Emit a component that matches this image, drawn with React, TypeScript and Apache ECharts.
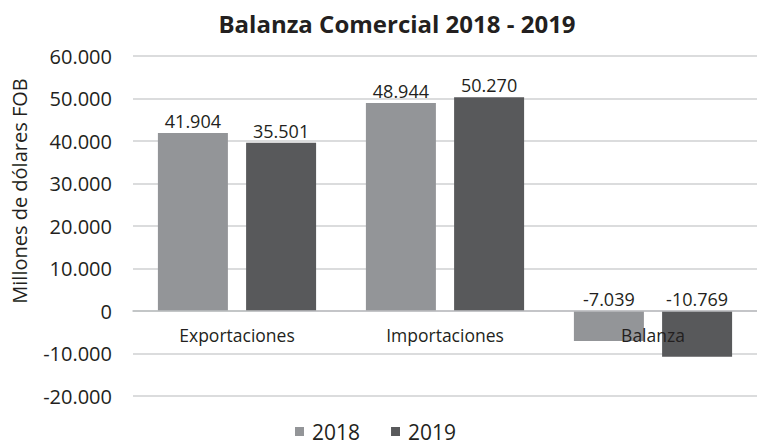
import React, { useEffect, useRef } from "react";
import * as echarts from "echarts";

const categories = ["Exportaciones", "Importaciones", "Balanza"];
const values2018 = [41904, 48944, -7039];
// bar heights as drawn in the picture
const values2019 = [39600, 50270, -10769];
// labels as printed in the picture
const labels2018 = ["41.904", "48.944", "-7.039"];
const labels2019 = ["35.501", "50.270", "-10.769"];
const seriesNames = ["2018", "2019"];
const yMin = -20000;
const yMax = 60000;
const yStep = 10000;

const FONT = "'Open Sans', 'Noto Sans', sans-serif";

function fmt(v: number): string {
  const s = Math.abs(v).toString().replace(/\B(?=(\d{3})+(?!\d))/g, ".");
  return (v < 0 ? "-" : "") + s;
}

export default function App() {
  const ref = useRef<HTMLDivElement>(null);
  useEffect(() => {
    if (!ref.current) return;
    const chart = echarts.init(ref.current, undefined, { renderer: "svg" });
    const gridTop = 56;
    const gridHeight = 340;
    const zeroY = gridTop + (gridHeight * (yMax - 0)) / (yMax - yMin);
    const xOffset = -(gridTop + gridHeight - zeroY);
    chart.setOption({
      animation: false,
      backgroundColor: "#ffffff",
      textStyle: { fontFamily: FONT },
      title: {
        text: "Balanza Comercial 2018 - 2019",
        left: 392,
        textAlign: "center",
        top: 6,
        textStyle: { fontSize: 24, fontWeight: "bold", color: "#231f20", fontFamily: FONT },
      },
      legend: {
        data: seriesNames,
        top: 421,
        left: 295,
        padding: 0,
        itemWidth: 9,
        itemHeight: 9,
        itemGap: 31,
        icon: "rect",
        textStyle: { fontSize: 21, color: "#231f20", fontFamily: FONT, padding: [0, 0, 0, 3] },
      },
      graphic: [
        {
          type: "text",
          x: 19,
          y: 191,
          rotation: Math.PI / 2,
          style: {
            text: "Millones de dólares FOB",
            fill: "#231f20",
            font: `20px ${FONT}`,
            textAlign: "center",
            textVerticalAlign: "middle",
          },
        },
      ],
      grid: { left: 133, top: gridTop, width: 630, height: gridHeight, containLabel: false },
      xAxis: {
        type: "category",
        data: categories,
        offset: xOffset,
        z: 5,
        axisLine: { show: true, onZero: false, lineStyle: { color: "#bcbec0", width: 1.5 } },
        axisTick: { show: false },
        axisLabel: { fontSize: 17.5, color: "#231f20", margin: 15, fontFamily: FONT },
      },
      yAxis: {
        type: "value",
        min: yMin,
        max: yMax,
        interval: yStep,
        axisLine: { show: false },
        axisTick: { show: false },
        axisLabel: {
          fontSize: 20,
          color: "#231f20",
          margin: 21,
          fontFamily: FONT,
          formatter: (v: number) => fmt(v),
        },
        splitLine: { lineStyle: { color: "#cfd0d2", width: 1.5 } },
      },
      series: [
        {
          name: seriesNames[0],
          type: "bar",
          data: values2018,
          barWidth: 70,
          barGap: "26%",
          itemStyle: { color: "#939598" },
          label: {
            show: true,
            position: "top",
            distance: 3,
            fontSize: 18,
            color: "#231f20",
            fontFamily: FONT,
            formatter: (p: any) => labels2018[p.dataIndex],
          },
        },
        {
          name: seriesNames[1],
          type: "bar",
          data: values2019,
          barWidth: 70,
          barGap: "26%",
          itemStyle: { color: "#58595b" },
          label: {
            show: true,
            position: "top",
            distance: 3,
            fontSize: 18,
            color: "#231f20",
            fontFamily: FONT,
            formatter: (p: any) => labels2019[p.dataIndex],
          },
        },
      ],
    });
    return () => chart.dispose();
  }, []);
  return (
    <div
      ref={ref}
      style={{ position: "absolute", left: 0, top: 0, width: 757, height: 444 }}
    />
  );
}
